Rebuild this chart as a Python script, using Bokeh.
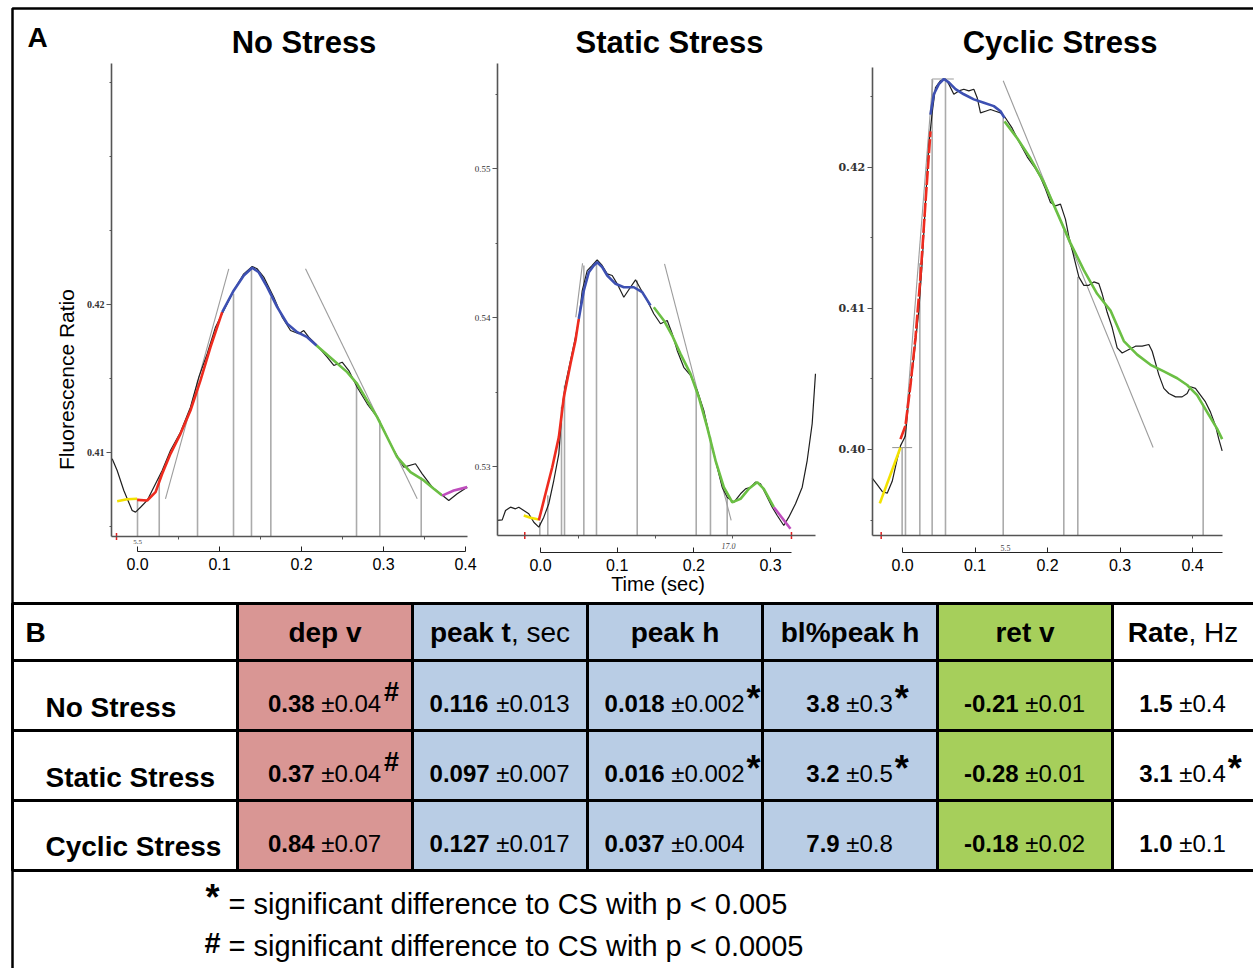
import math
from bokeh.plotting import figure
from bokeh.models import Range1d, LinearAxis, FixedTicker, NumeralTickFormatter
from bokeh.core.properties import value
from bokeh.embed import file_html
from bokeh.resources import INLINE

W, H = 1253, 968
SANS = "Liberation Sans"

# ======================= PANEL A DATA (time in s, fluorescence ratio) =======================
# --- No Stress ---
ns_trace_t = [-0.0309, -0.0248, -0.0167, -0.0065, -0.0024, 0.0037, 0.0118, 0.0220, 0.0301, 0.0402,
              0.0524, 0.0646, 0.0748, 0.0850, 0.0951, 0.1052, 0.1174, 0.1296, 0.1399, 0.1460,
              0.1540, 0.1662, 0.1765, 0.1866, 0.1967, 0.2028, 0.2089, 0.2191, 0.2313, 0.2394,
              0.2496, 0.2577, 0.2679, 0.2801, 0.2923, 0.3004, 0.3126, 0.3248, 0.3390, 0.3472,
              0.3594, 0.3695, 0.3796, 0.3899, 0.4021]
ns_trace_r = [0.40958, 0.40878, 0.40743, 0.40608, 0.40597, 0.40630, 0.40676, 0.40789, 0.40878, 0.41014,
              0.41137, 0.41306, 0.41509, 0.41667, 0.41847, 0.41960, 0.42095, 0.42207, 0.42257, 0.42241,
              0.42185, 0.42049, 0.41914, 0.41824, 0.41802, 0.41824, 0.41779, 0.41723, 0.41644, 0.41588,
              0.41610, 0.41554, 0.41441, 0.41329, 0.41239, 0.41149, 0.41014, 0.40901, 0.40924, 0.40856,
              0.40766, 0.40721, 0.40676, 0.40721, 0.40766]
ns_yellow_t = [-0.0248, -0.0126, -0.0004]
ns_yellow_r = [0.40671, 0.40684, 0.40687]
ns_red_t = [-0.0004, 0.0118, 0.0220, 0.0301, 0.0402, 0.0524, 0.0646, 0.0768, 0.0890, 0.1033]
ns_red_r = [0.40680, 0.40676, 0.40732, 0.40856, 0.40991, 0.41126, 0.41284, 0.41487, 0.41712, 0.41948]
ns_blue_t = [0.1033, 0.1174, 0.1296, 0.1399, 0.1479, 0.1582, 0.1704, 0.1826, 0.1948, 0.2070, 0.2183]
ns_blue_r = [0.41948, 0.42095, 0.42196, 0.42248, 0.42218, 0.42117, 0.41982, 0.41870, 0.41813, 0.41779, 0.41723]
ns_green_t = [0.2183, 0.2394, 0.2557, 0.2679, 0.2801, 0.2923, 0.3045, 0.3167, 0.3329, 0.3491, 0.3613, 0.3716]
ns_green_r = [0.41723, 0.41622, 0.41543, 0.41464, 0.41351, 0.41239, 0.41103, 0.40968, 0.40867, 0.40811, 0.40755, 0.40709]
ns_magenta_t = [0.3716, 0.3857, 0.4021]
ns_magenta_r = [0.40709, 0.40743, 0.40766]
ns_vline_t = [0.0, 0.0265, 0.0732, 0.1171, 0.1390, 0.1626, 0.2671, 0.2955, 0.3460]
ns_vline_top = [0.40687, 0.40833, 0.41487, 0.42072, 0.42252, 0.42049, 0.41475, 0.41216, 0.40833]
ns_tan_t = [[0.0341, 0.1113], [0.2049, 0.3411]]
ns_tan_r = [[0.40687, 0.42241], [0.42241, 0.40687]]
ns_window_t = [-0.0256]

# --- Static Stress ---
ss_trace_t = [-0.0565, -0.0499, -0.0456, -0.0391, -0.0326, -0.0283, -0.0218, -0.0153, -0.0087, -0.0022,
              0.0043, 0.0108, 0.0173, 0.0239, 0.0283, 0.0326, 0.0391, 0.0456, 0.0499, 0.0544,
              0.0609, 0.0674, 0.0739, 0.0804, 0.0870, 0.0935, 0.1000, 0.1086, 0.1173, 0.1239,
              0.1304, 0.1391, 0.1477, 0.1565, 0.1652, 0.1717, 0.1782, 0.1868, 0.1956, 0.2043,
              0.2129, 0.2216, 0.2304, 0.2369, 0.2434, 0.2520, 0.2608, 0.2673, 0.2738, 0.2803,
              0.2868, 0.2934, 0.3021, 0.3086, 0.3172, 0.3237, 0.3325, 0.3412, 0.3477, 0.3542, 0.3585]
ss_trace_r = [0.52638, 0.52642, 0.52705, 0.52727, 0.52716, 0.52727, 0.52705, 0.52683, 0.52626, 0.52593,
              0.52660, 0.52750, 0.52906, 0.53085, 0.53398, 0.53555, 0.53711, 0.53868, 0.53980, 0.54181,
              0.54315, 0.54349, 0.54387, 0.54349, 0.54293, 0.54282, 0.54226, 0.54136, 0.54203, 0.54253,
              0.54193, 0.54114, 0.54025, 0.53958, 0.53980, 0.53891, 0.53779, 0.53666, 0.53611, 0.53510,
              0.53376, 0.53175, 0.52995, 0.52861, 0.52794, 0.52760, 0.52817, 0.52850, 0.52861, 0.52895,
              0.52884, 0.52817, 0.52727, 0.52671, 0.52604, 0.52660, 0.52750, 0.52861, 0.53040, 0.53287, 0.53622]
ss_yellow_t = [-0.0218, -0.0130, -0.0022]
ss_yellow_r = [0.52671, 0.52656, 0.52644]
ss_red_t = [-0.0022, 0.0065, 0.0153, 0.0239, 0.0304, 0.0391, 0.0456, 0.0499]
ss_red_r = [0.52638, 0.52817, 0.52995, 0.53197, 0.53465, 0.53689, 0.53846, 0.53991]
ss_blue_t = [0.0499, 0.0565, 0.0630, 0.0695, 0.0739, 0.0804, 0.0870, 0.0978, 0.1086, 0.1217, 0.1326, 0.1434]
ss_blue_r = [0.53991, 0.54181, 0.54304, 0.54349, 0.54371, 0.54338, 0.54282, 0.54226, 0.54203, 0.54203, 0.54170, 0.54081]
ss_green_t = [0.1477, 0.1608, 0.1717, 0.1825, 0.1956, 0.2064, 0.2173, 0.2282, 0.2390, 0.2500, 0.2608,
              0.2716, 0.2825, 0.2911, 0.3042]
ss_green_r = [0.54069, 0.53980, 0.53879, 0.53756, 0.53622, 0.53465, 0.53264, 0.53040, 0.52861, 0.52760, 0.52783,
              0.52850, 0.52895, 0.52850, 0.52727]
ss_magenta_t = [0.3042, 0.3259]
ss_magenta_r = [0.52727, 0.52582]
ss_vline_t = [-0.0009, 0.0095, 0.0274, 0.0313, 0.0565, 0.0730, 0.1261, 0.2030, 0.2216, 0.2434]
ss_vline_top = [0.52626, 0.52806, 0.53398, 0.53543, 0.54349, 0.54383, 0.54248, 0.53510, 0.53197, 0.52794]
ss_tan_t = [[0.0548, 0.0460], [0.1617, 0.2486]]
ss_tan_r = [[0.54364, 0.54002], [0.54360, 0.52638]]
ss_window_t = [-0.0205, 0.3272]

# --- Cyclic Stress ---
cs_trace_t = [-0.0418, -0.0349, -0.0280, -0.0211, -0.0142, -0.0074, -0.0028, 0.0041, 0.0087, 0.0156,
              0.0225, 0.0271, 0.0317, 0.0363, 0.0409, 0.0455, 0.0524, 0.0593, 0.0639, 0.0708,
              0.0777, 0.0846, 0.0915, 0.0984, 0.1030, 0.1076, 0.1145, 0.1214, 0.1283, 0.1352,
              0.1421, 0.1513, 0.1605, 0.1720, 0.1834, 0.1903, 0.1972, 0.2041, 0.2110, 0.2179,
              0.2248, 0.2294, 0.2363, 0.2432, 0.2501, 0.2570, 0.2639, 0.2708, 0.2754, 0.2823,
              0.2892, 0.2961, 0.3030, 0.3122, 0.3214, 0.3306, 0.3398, 0.3444, 0.3536, 0.3605,
              0.3674, 0.3766, 0.3857, 0.3926, 0.3972, 0.4041, 0.4110, 0.4179, 0.4248, 0.4317,
              0.4363, 0.4409]
cs_trace_r = [0.39797, 0.39750, 0.39702, 0.39690, 0.39774, 0.39929, 0.40025, 0.40097, 0.40360, 0.40647,
              0.40983, 0.41318, 0.41749, 0.42156, 0.42383, 0.42563, 0.42611, 0.42623, 0.42587, 0.42515,
              0.42539, 0.42551, 0.42539, 0.42551, 0.42491, 0.42383, 0.42395, 0.42407, 0.42395, 0.42383,
              0.42347, 0.42275, 0.42180, 0.42072, 0.41988, 0.41928, 0.41844, 0.41749, 0.41725, 0.41737,
              0.41629, 0.41509, 0.41366, 0.41222, 0.41162, 0.41162, 0.41186, 0.41174, 0.41102, 0.40971,
              0.40863, 0.40719, 0.40683, 0.40707, 0.40731, 0.40731, 0.40743, 0.40695, 0.40528, 0.40432,
              0.40396, 0.40372, 0.40372, 0.40396, 0.40444, 0.40432, 0.40384, 0.40336, 0.40264, 0.40168,
              0.40073, 0.39989]
cs_yellow_t = [-0.0313, -0.0028]
cs_yellow_r = [0.39618, 0.40013]
cs_red_t = [-0.0028, 0.0041, 0.0110, 0.0179, 0.0248, 0.0317, 0.0386]
cs_red_r = [0.40073, 0.40168, 0.40456, 0.40791, 0.41222, 0.41749, 0.42252]
cs_blue_t = [0.0386, 0.0432, 0.0501, 0.0570, 0.0639, 0.0731, 0.0846, 0.0984, 0.1122, 0.1260, 0.1352, 0.1407]
cs_blue_r = [0.42371, 0.42515, 0.42587, 0.42623, 0.42599, 0.42551, 0.42515, 0.42479, 0.42455, 0.42431, 0.42395, 0.42347]
cs_green_t = [0.1407, 0.1582, 0.1766, 0.1949, 0.2133, 0.2317, 0.2501, 0.2685, 0.2869, 0.3053, 0.3237,
              0.3421, 0.3605, 0.3789, 0.3926, 0.4064, 0.4202, 0.4340, 0.4409]
cs_green_r = [0.42323, 0.42204, 0.42060, 0.41892, 0.41677, 0.41461, 0.41270, 0.41102, 0.40983, 0.40767, 0.40671,
              0.40599, 0.40552, 0.40504, 0.40456, 0.40384, 0.40264, 0.40145, 0.40073]
cs_vline_t = [-0.0005, 0.0041, 0.0239, 0.0409, 0.0593, 0.1389, 0.2225, 0.2418, 0.4147]
cs_vline_top = [0.40013, 0.40097, 0.41318, 0.42623, 0.42623, 0.42347, 0.41557, 0.41222, 0.40324]
cs_tan_t = [[0.0028, 0.0418], [0.1389, 0.3457], [0.0409, 0.0708], [-0.0142, 0.0133]]
cs_tan_r = [[0.40073, 0.42615], [0.42611, 0.40013], [0.42623, 0.42623], [0.40013, 0.40013]]
cs_window_t = [-0.0294]

panel_titles = ["No Stress", "Static Stress", "Cyclic Stress"]

# ======================= PANEL B DATA (table) =======================
conditions = ["No Stress", "Static Stress", "Cyclic Stress"]
header_bold = ["dep v", "peak t", "peak h", "bl%peak h", "ret v", "Rate"]
header_unit = ["", ", sec", "", "", "", ", Hz"]
dep_v_mean = ["0.38", "0.37", "0.84"]
dep_v_sem = ["0.04", "0.04", "0.07"]
dep_v_sig = ["#", "#", ""]
peak_t_mean = ["0.116", "0.097", "0.127"]
peak_t_sem = ["0.013", "0.007", "0.017"]
peak_t_sig = ["", "", ""]
peak_h_mean = ["0.018", "0.016", "0.037"]
peak_h_sem = ["0.002", "0.002", "0.004"]
peak_h_sig = ["*", "*", ""]
bl_peak_h_mean = ["3.8", "3.2", "7.9"]
bl_peak_h_sem = ["0.3", "0.5", "0.8"]
bl_peak_h_sig = ["*", "*", ""]
ret_v_mean = ["-0.21", "-0.28", "-0.18"]
ret_v_sem = ["0.01", "0.01", "0.02"]
ret_v_sig = ["", "", ""]
rate_mean = ["1.5", "3.1", "1.0"]
rate_sem = ["0.4", "0.4", "0.1"]
rate_sig = ["", "*", ""]
footnotes = [("*", "= significant difference to CS with p < 0.005"),
             ("#", "= significant difference to CS with p < 0.0005")]

# ======================= FIGURE =======================
p = figure(width=W, height=H, x_range=Range1d(0, W), y_range=Range1d(H, 0),
           x_axis_type=None, y_axis_type=None, toolbar_location=None,
           output_backend="svg", min_border=0, outline_line_color=None)
p.background_fill_color = "white"
p.border_fill_color = "white"


def txt(x, y, s, size, style="normal", align="left", baseline="middle",
        font=SANS, angle=0.0, color="black"):
    p.text(x=[x], y=[y], text=[s], text_font=value(font), text_font_size=f"{size}px",
           text_font_style=style, text_align=align, text_baseline=baseline,
           angle=angle, text_color=color)


COL = dict(yellow="#f3e200", red="#ee2b1f", blue="#3d50b2", green="#6bbf44", magenta="#bf4dbd")


def add_panel(key, lay, trace_t, trace_r, segs, vt, vtop, tan_t, tan_r, window_t,
              xticks, bticks, yticks, yminor, yfont, ysize, ystyle):
    x0, xs, yrp, yrv, ys = lay["x0"], lay["xs"], lay["yref_px"], lay["yref_v"], lay["ys"]

    def tx(px):
        return (px - x0) / xs

    def ry(py):
        return yrv + (yrp - py) / ys

    p.extra_x_ranges = {**p.extra_x_ranges, key: Range1d(tx(0), tx(W))}
    p.extra_y_ranges = {**p.extra_y_ranges, key: Range1d(ry(H), ry(0))}
    kw = dict(x_range_name=key, y_range_name=key)
    base = ry(lay["bottom"])

    # vertical marker lines
    p.segment(x0=vt, y0=[base] * len(vt), x1=vt, y1=vtop, line_color="#ababab",
              line_width=1.6, **kw)
    # tangent lines
    p.multi_line(xs=tan_t, ys=tan_r, line_color="#9c9c9c", line_width=1.1, **kw)
    # raw trace
    p.line(trace_t, trace_r, line_color="#1e1e1e", line_width=1.2, **kw)
    # fitted phases
    for cname, st, sr, dash in segs:
        p.line(st, sr, line_color=COL[cname], line_width=2.6, line_dash=dash, **kw)
    # analysis-window markers
    p.scatter(window_t, [base] * len(window_t), marker="dash", angle=math.pi / 2,
              size=7, line_color="#e02020", line_width=1.5, **kw)

    # y axis
    yax = LinearAxis(fixed_location=tx(lay["left"]), bounds=(ry(lay["bottom"]), ry(lay["top"])),
                     ticker=FixedTicker(ticks=yticks, minor_ticks=yminor),
                     formatter=NumeralTickFormatter(format="0.00"), **kw)
    yax.axis_line_color = "#555555"
    yax.axis_line_width = 1.6
    yax.major_tick_line_color = "#555555"
    yax.minor_tick_line_color = "#555555"
    yax.major_tick_out = 5
    yax.major_tick_in = 0
    yax.minor_tick_out = 2
    yax.minor_tick_in = 0
    yax.major_label_standoff = 2
    yax.major_label_text_font = yfont
    yax.major_label_text_font_size = f"{ysize}px"
    yax.major_label_text_font_style = ystyle
    yax.major_label_text_color = "#333333"
    p.add_layout(yax, "left")

    # frame bottom line (unlabelled, minor ticks only)
    bax = LinearAxis(fixed_location=base, bounds=(tx(lay["left"]), tx(lay["right"])),
                     ticker=FixedTicker(ticks=[], minor_ticks=bticks), **kw)
    bax.axis_line_color = "#555555"
    bax.axis_line_width = 1.6
    bax.minor_tick_line_color = "#555555"
    bax.minor_tick_out = 3
    bax.minor_tick_in = 0
    p.add_layout(bax, "below")

    # labelled time axis
    sax = LinearAxis(fixed_location=ry(lay["sec"]), bounds=(0, lay["sec_end"]),
                     ticker=FixedTicker(ticks=xticks),
                     formatter=NumeralTickFormatter(format="0.0"), **kw)
    sax.axis_line_color = "#222222"
    sax.axis_line_width = 1.2
    sax.major_tick_line_color = "#222222"
    sax.major_tick_in = 5
    sax.major_tick_out = 0
    sax.major_label_standoff = 6
    sax.major_label_text_font = SANS
    sax.major_label_text_font_size = "16px"
    sax.major_label_text_color = "black"
    p.add_layout(sax, "below")


L1 = dict(x0=137, xs=820, yref_px=304, yref_v=0.42, ys=14800, left=111, top=63, bottom=536,
          right=467, sec=551, sec_end=0.4)
L2 = dict(x0=540, xs=767, yref_px=317, yref_v=0.54, ys=14900, left=497, top=63, bottom=535,
          right=815, sec=552, sec_end=0.327)
L3 = dict(x0=902, xs=725, yref_px=166.5, yref_v=0.42, ys=14120, left=871.7, top=67, bottom=535,
          right=1221.7, sec=552, sec_end=0.441)

add_panel("ns", L1, ns_trace_t, ns_trace_r,
          [("yellow", ns_yellow_t, ns_yellow_r, "solid"), ("red", ns_red_t, ns_red_r, "solid"),
           ("blue", ns_blue_t, ns_blue_r, "solid"), ("green", ns_green_t, ns_green_r, "solid"),
           ("magenta", ns_magenta_t, ns_magenta_r, "solid")],
          ns_vline_t, ns_vline_top, ns_tan_t, ns_tan_r, ns_window_t,
          [0.0, 0.1, 0.2, 0.3, 0.4], [0.05, 0.15, 0.25, 0.35],
          [0.41, 0.42], [0.405, 0.415, 0.425, 0.43, 0.435], "Liberation Serif", 10, "bold")
add_panel("ss", L2, ss_trace_t, ss_trace_r,
          [("yellow", ss_yellow_t, ss_yellow_r, "solid"), ("red", ss_red_t, ss_red_r, "solid"),
           ("blue", ss_blue_t, ss_blue_r, "solid"), ("green", ss_green_t, ss_green_r, "solid"),
           ("magenta", ss_magenta_t, ss_magenta_r, "solid")],
          ss_vline_t, ss_vline_top, ss_tan_t, ss_tan_r, ss_window_t,
          [0.0, 0.1, 0.2, 0.3], [0.05, 0.15, 0.25],
          [0.53, 0.54, 0.55], [0.535, 0.545, 0.555], "Liberation Serif", 9, "normal")
add_panel("cs", L3, cs_trace_t, cs_trace_r,
          [("yellow", cs_yellow_t, cs_yellow_r, "solid"), ("red", cs_red_t, cs_red_r, "14 2"),
           ("blue", cs_blue_t, cs_blue_r, "solid"), ("green", cs_green_t, cs_green_r, "solid")],
          cs_vline_t, cs_vline_top, cs_tan_t, cs_tan_r, cs_window_t,
          [0.0, 0.1, 0.2, 0.3, 0.4], [0.4],
          [0.40, 0.41, 0.42], [0.395, 0.405, 0.415, 0.425], "DejaVu Serif", 11, "bold")

# panel A texts
txt(27, 37, "A", 28, "bold")
for cx, t in zip([303.5, 669, 1059.5], panel_titles):
    txt(cx, 42, t, 31, "bold", align="center")
txt(65.5, 379, "Fluorescence Ratio", 21, align="center", angle=math.pi / 2)
txt(657.5, 583, "Time (sec)", 20, align="center")
txt(137, 541, "5.5", 7, align="center", font="Liberation Serif", color="#444444")
txt(728, 545, "17.0", 8, "italic", align="center", font="Liberation Serif", color="#444444")
txt(1005, 547, "5.5", 8, align="center", font="Liberation Serif", color="#444444")

# ======================= TABLE =======================
col_edges = [12, 237, 412, 587, 762, 937, 1112, 1262]
row_edges = [603, 660, 730, 800, 870]
col_fill = ["#ffffff", "#d99694", "#b9cde5", "#b9cde5", "#b9cde5", "#a6cf5b", "#ffffff"]
ql, qr, qt, qb, qf = [], [], [], [], []
for i in range(len(row_edges) - 1):
    for j in range(len(col_edges) - 1):
        ql.append(col_edges[j]); qr.append(col_edges[j + 1])
        qt.append(row_edges[i]); qb.append(row_edges[i + 1]); qf.append(col_fill[j])
p.quad(left=ql, right=qr, top=qt, bottom=qb, fill_color=qf, line_color="black", line_width=3)
# outer frame
p.quad(left=[12], right=[1262], top=[8], bottom=[990], fill_color=None, line_color="black", line_width=2.5)

REG = {c: 0.556 for c in "0123456789"}
REG.update({".": 0.278, " ": 0.278, "±": 0.584, "-": 0.333, ",": 0.278, "s": 0.5, "e": 0.556,
            "c": 0.5, "H": 0.722, "z": 0.5})
BOLD = {c: 0.556 for c in "0123456789"}
BOLD.update({".": 0.278, " ": 0.278, "-": 0.333, "p": 0.611, "e": 0.556, "a": 0.556, "k": 0.556,
             "t": 0.333, "d": 0.611, "v": 0.556, "h": 0.611, "b": 0.611, "l": 0.278, "%": 0.889,
             "r": 0.389, "R": 0.722})


def width(s, table, size):
    return sum(table.get(c, 0.556) for c in s) * size


centers = [(col_edges[j] + min(col_edges[j + 1], W)) / 2 for j in range(1, 7)]

txt(25, 632, "B", 28, "bold")
HS = 28
for cx, hb, hu in zip(centers, header_bold, header_unit):
    wb, wu = width(hb, BOLD, HS), width(hu, REG, HS)
    x = cx - (wb + wu) / 2
    txt(x, 632, hb, HS, "bold")
    if hu:
        txt(x + wb, 632, hu, HS)

label_mid = [707, 777, 846]
value_mid = [703, 773, 843]
for cond, ym in zip(conditions, label_mid):
    txt(45, ym, cond, 28, "bold")

columns = [(dep_v_mean, dep_v_sem, dep_v_sig), (peak_t_mean, peak_t_sem, peak_t_sig),
           (peak_h_mean, peak_h_sem, peak_h_sig), (bl_peak_h_mean, bl_peak_h_sem, bl_peak_h_sig),
           (ret_v_mean, ret_v_sem, ret_v_sig), (rate_mean, rate_sem, rate_sig)]
VS = 24
SP = width(" ", REG, VS)
for cx, (means, sems, sigs) in zip(centers, columns):
    for m, s, g, ym in zip(means, sems, sigs, value_mid):
        reg = "±" + s
        wb, wr = width(m, BOLD, VS), width(reg, REG, VS)
        x = cx - (wb + SP + wr) / 2
        txt(x, ym, m, VS, "bold")
        txt(x + wb + SP, ym, reg, VS)
        if g == "#":
            txt(x + wb + SP + wr + 2, ym - 12, "#", 27, "bold")
        elif g == "*":
            txt(x + wb + SP + wr + 1, ym - 5, "*", 36, "bold")

# footnotes
txt(212, 897, footnotes[0][0], 36, "bold", align="center")
txt(228, 903, footnotes[0][1], 29)
txt(212, 942, footnotes[1][0], 29, "bold", align="center")
txt(228, 945, footnotes[1][1], 29)

open("out.html", "w").write(file_html(p, INLINE))
